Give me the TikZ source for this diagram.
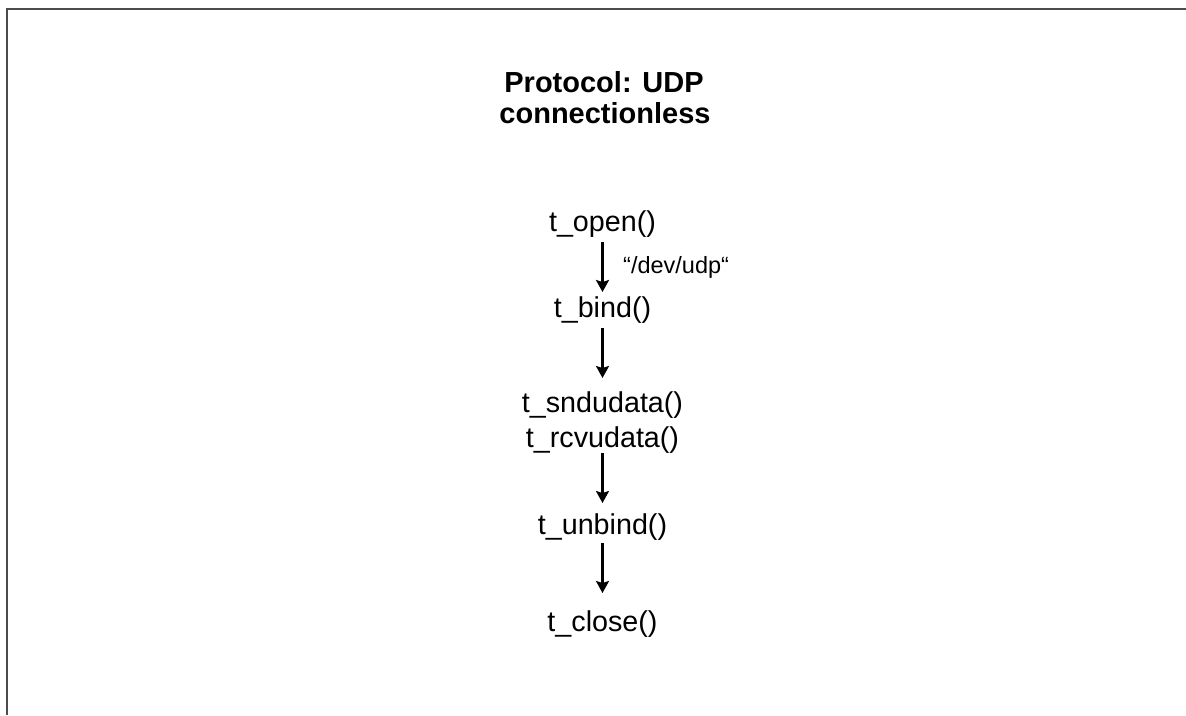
\documentclass[tikz,border=0pt]{standalone}
\usepackage{fontspec}
\setmainfont{Liberation Sans}
\usetikzlibrary{arrows.meta}
\begin{document}
\begin{tikzpicture}[x=1pt,y=-1pt,
  fn/.style={inner sep=0pt, anchor=base, font=\fontsize{28.7}{34}\selectfont},
  ttl/.style={inner sep=0pt, anchor=base, font=\bfseries\fontsize{29}{31.5}\selectfont},
  lbl/.style={inner sep=0pt, anchor=base west, font=\fontsize{23.5}{27}\selectfont},
  arr/.style={line width=2.4pt, -{Stealth[length=12pt,width=13pt,inset=2pt]}},
  frame/.style={line width=2.2pt, draw=black!70}]
\useasboundingbox (0,0) rectangle (1186,715);
\draw[frame] (7,715) -- (7,9) -- (1186,9);
\node[ttl] (t1) at (604,92) {Protocol: UDP};
\node[ttl] (t2) at (605,123) {connectionless};
\node[fn] (open) at (602.5,231) {t\_open()};
\node[fn] (bind) at (602.5,317) {t\_bind()};
\node[fn] (snd) at (602.5,412) {t\_sndudata()};
\node[fn] (rcv) at (602.5,447) {t\_rcvudata()};
\node[fn] (unbind) at (602.5,534) {t\_unbind()};
\node[fn] (close) at (602.5,631) {t\_close()};
\node[lbl] (dev) at (623,273) {“/dev/udp“};
\draw[arr] ([yshift=-5pt]open.south) -- ([yshift=4pt]bind.north);
\draw[arr] ([yshift=-5pt]bind.south) -- ([yshift=13pt]snd.north);
\draw[arr] (rcv.south) -- ([yshift=10pt]unbind.north);
\draw[arr] ([yshift=-3pt]unbind.south) -- ([yshift=17pt]close.north);
\end{tikzpicture}
\end{document}
